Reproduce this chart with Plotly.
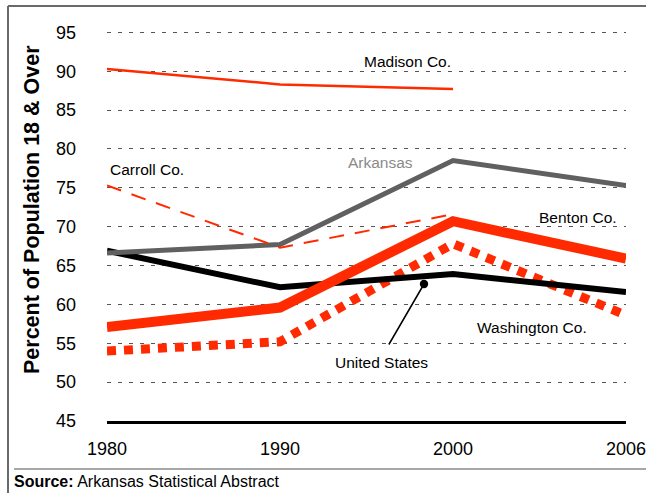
"""Adult population share by county, 1980-2006."""

import plotly.graph_objects as go

# ─── Data ─────────────────────────────────────────────────────────────────────
YEARS = ["1980", "1990", "2000", "2006"]

MADISON = [90.3, 88.3, 87.7]
CARROLL = [75.3, 67.3, 71.6]
ARKANSAS = [66.6, 67.7, 78.5, 75.3]
UNITED_STATES = [66.9, 62.2, 63.9, 61.6]
BENTON = [57.1, 59.6, 70.7, 65.9]
WASHINGTON = [54.0, 55.2, 67.8, 58.6]

Y_TICKS = [45, 50, 55, 60, 65, 70, 75, 80, 85, 90, 95]

RED = "#FF2A00"
FONT = "Liberation Sans, Arial, sans-serif"

# ─── Figure ───────────────────────────────────────────────────────────────────
fig = go.Figure()


def add_line(values, color, width, dash="solid"):
    fig.add_trace(
        go.Scatter(
            x=YEARS[: len(values)],
            y=values,
            mode="lines",
            line=dict(color=color, width=width, dash=dash),
            hoverinfo="skip",
        )
    )


add_line(WASHINGTON, RED, 9, dash="9px,8px")
add_line(UNITED_STATES, "black", 6)
add_line(ARKANSAS, "#606060", 5)
add_line(CARROLL, RED, 2, dash="15px,11px")
add_line(BENTON, RED, 10)
add_line(MADISON, RED, 2.5)

labels = [
    ("Madison Co.", 407, 62, "black"),
    ("Carroll Co.", 147, 169, "black"),
    ("Arkansas", 380, 162, "#8a8a8a"),
    ("Benton Co.", 578, 217, "black"),
    ("Washington Co.", 532, 327, "black"),
    ("United States", 381, 362, "black"),
]
PLOT_L, PLOT_R, PLOT_T, PLOT_B = 107, 626, 30, 421
W, H = 646, 493


def px_x(px):
    return (px - PLOT_L) / (PLOT_R - PLOT_L)


def px_y(py):
    return (PLOT_B - py) / (PLOT_B - PLOT_T)


for text, cx, cy, color in labels:
    fig.add_annotation(
        text=text, xref="paper", yref="paper", x=px_x(cx), y=px_y(cy),
        xanchor="center", yanchor="middle",
        showarrow=False, font=dict(size=15.5, color=color, family=FONT),
    )

# pointer to the United States line
fig.add_annotation(
    text="", xref="paper", yref="paper", x=px_x(424), y=px_y(284),
    axref="pixel", ayref="pixel", ax=-36, ay=62,
    showarrow=True, arrowhead=6, arrowside="end", arrowsize=1.4,
    arrowwidth=1.5, arrowcolor="black", standoff=0,
)

# y-axis title
fig.add_annotation(
    text="<b>Percent of Population 18 &amp; Over</b>",
    xref="paper", yref="paper", x=px_x(32), y=px_y(210),
    xanchor="center", yanchor="middle",
    textangle=-90, showarrow=False,
    font=dict(size=21.5, color="black", family=FONT),
)

# source note
fig.add_annotation(
    text="<b>Source:</b> Arkansas Statistical Abstract",
    xref="paper", yref="paper", x=px_x(12), y=px_y(481),
    xanchor="left", yanchor="middle", showarrow=False,
    font=dict(size=16, color="black", family=FONT),
)

# frame lines
frame = dict(color="#6a6a6a", width=2)
fig.add_shape(type="line", xref="paper", yref="paper",
              x0=px_x(8), x1=px_x(8), y0=px_y(6), y1=px_y(500), line=frame)
fig.add_shape(type="line", xref="paper", yref="paper",
              x0=px_x(8), x1=px_x(660), y0=px_y(6), y1=px_y(6), line=frame)
fig.add_shape(type="line", xref="paper", yref="paper",
              x0=px_x(14), x1=px_x(660), y0=px_y(469), y1=px_y(469),
              line=dict(color="#8a8a8a", width=1.5))

fig.update_layout(
    width=W,
    height=H,
    margin=dict(l=PLOT_L, r=W - PLOT_R, t=PLOT_T, b=H - PLOT_B),
    paper_bgcolor="white",
    plot_bgcolor="white",
    showlegend=False,
    font=dict(family=FONT, color="black"),
    xaxis=dict(
        type="category",
        range=[0, 3],
        automargin=False,
        showgrid=False,
        showline=True,
        linecolor="black",
        linewidth=2.5,
        ticks="",
        ticklabelstandoff=10,
        tickfont=dict(size=18),
    ),
    yaxis=dict(
        range=[45, 95.3],
        tickvals=Y_TICKS,
        automargin=False,
        showgrid=True,
        gridcolor="#555555",
        gridwidth=1,
        griddash="4px,7px",
        zeroline=False,
        showline=False,
        ticks="",
        ticklabelstandoff=30,
        tickfont=dict(size=18),
    ),
)

fig.write_html(
    "out.html",
    config={"displayModeBar": False},
    post_script="document.body.style.margin='0';document.body.style.overflow='hidden';",
)
